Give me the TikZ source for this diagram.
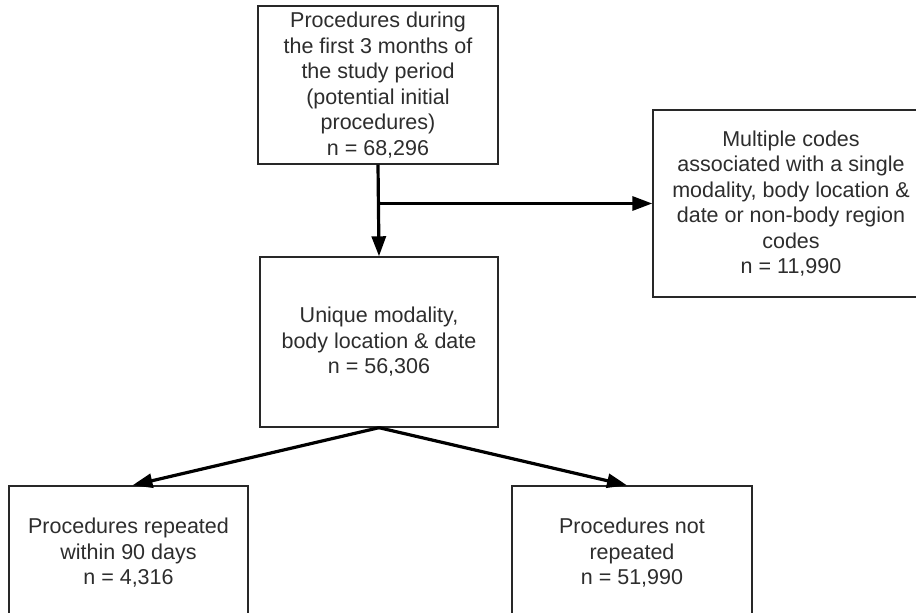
\documentclass[tikz,border=0pt]{standalone}
\usepackage{fontspec}
\setmainfont{Liberation Sans}
\usepackage{tikz}
\usetikzlibrary{arrows.meta, positioning}
\definecolor{BoxLine}{RGB}{40, 40, 40}
\definecolor{TextGrey}{RGB}{45, 45, 45}

\begin{document}
\begin{tikzpicture}[
    x=1pt, y=1pt,
    every node/.style={font=\fontsize{21.5}{25.5}\selectfont, align=center, text=TextGrey},
    box/.style={draw=BoxLine, line width=1.4pt, fill=white, inner sep=0pt,
                minimum width=240pt},
    flow/.style={-{Triangle[length=20pt, width=14pt]}, line width=3.2pt, black}
]
\clip (0,0) rectangle (916,613);
\node[box, minimum height=158pt] (start) at (378,528) {Procedures during\\the first 3 months of\\the study period\\(potential initial\\procedures)\\n = 68,296};
\node[box, minimum height=170pt, minimum width=238pt] (unique) at (379,271) {Unique modality,\\body location \& date\\n = 56,306};
\node[box, minimum height=187pt, minimum width=276pt] (excl) at (791,409.5) {Multiple codes\\associated with a single\\modality, body location \&\\date or non-body region\\codes\\n = 11,990};
\node[box, minimum height=134pt, minimum width=239pt] (rep) at (128.5,60) {Procedures repeated\\within 90 days\\n = 4,316};
\node[box, minimum height=134pt] (norep) at (632,60) {Procedures not\\repeated\\n = 51,990};
\coordinate (split) at (start.south |- excl.west);
\draw[flow] (start.south) -- (unique.north);
\draw[flow] (split) -- (excl.west);
\draw[flow] (unique.south) -- ([xshift=4pt]rep.north);
\draw[flow] (unique.south) -- ([xshift=-5pt]norep.north);
\end{tikzpicture}
\end{document}
